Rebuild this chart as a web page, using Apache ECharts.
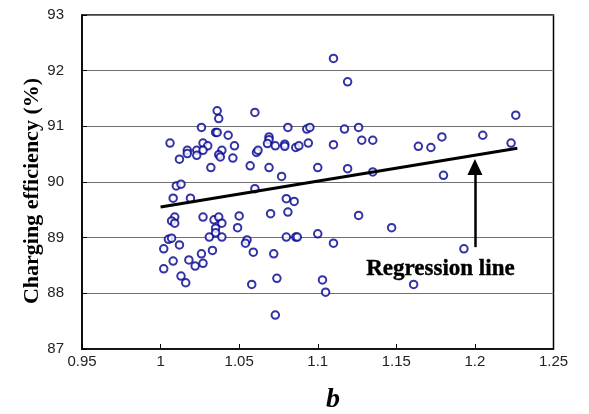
<!DOCTYPE html>
<html>
<head>
<meta charset="utf-8">
<script src="https://cdn.jsdelivr.net/npm/echarts@6/dist/echarts.min.js"></script>
<style>html,body{margin:0;padding:0;background:#fff;}#c{width:589px;height:414px;}</style>
</head>
<body>
<div id="c"></div>
<script>
const xTicks = [0.95, 1, 1.05, 1.1, 1.15, 1.2, 1.25];
const yTicks = [87, 88, 89, 90, 91, 92, 93];
const bValues = [
  1.036,1.037,1.060,1.026,1.035,1.036,1.043,1.006,1.027,1.030,1.047,1.017,1.023,1.027,1.039,1.017,1.023,1.037,1.038,1.012,
  1.046,1.032,1.057,1.061,1.062,1.010,1.013,1.060,
  1.110,1.119,1.081,1.093,1.095,1.117,1.126,1.069,1.069,1.068,1.073,1.079,1.079,1.086,1.088,1.094,1.110,1.128,1.135,
  1.069,1.077,1.100,1.119,1.135,
  1.226,1.164,1.172,1.179,1.205,1.223,1.180,
  1.008,1.019,1.009,1.007,1.009,1.027,1.034,1.037,1.039,1.035,1.050,1.049,1.035,1.031,1.039,1.005,1.007,1.012,1.002,1.055,
  1.054,1.059,1.033,1.026,1.008,1.018,1.022,1.027,1.002,1.013,1.016,1.058,
  1.080,1.085,1.070,1.081,1.126,1.080,1.086,1.087,1.100,1.110,1.072,1.074,1.103,1.105,1.073,
  1.147,1.193,1.161
];
const efficiency = [
  91.28,91.14,91.25,90.98,90.89,90.89,90.84,90.70,90.70,90.65,90.65,90.57,90.57,90.57,90.57,90.51,90.48,90.49,90.45,90.41,
  90.43,90.26,90.29,90.53,90.57,89.93,89.96,89.88,
  92.22,91.80,90.98,90.95,90.98,90.95,90.98,90.81,90.76,90.69,90.65,90.68,90.64,90.62,90.65,90.70,90.67,90.75,90.75,
  90.26,90.10,90.26,90.24,90.18,
  91.20,90.64,90.62,90.81,90.84,90.70,90.12,
  89.71,89.71,89.37,89.30,89.26,89.37,89.32,89.37,89.26,89.17,89.39,89.18,89.09,89.01,89.01,88.97,88.99,88.87,88.80,88.96,
  88.90,88.74,88.77,88.71,88.58,88.60,88.49,88.54,88.44,88.31,88.19,88.16,
  89.70,89.65,89.43,89.46,89.40,89.01,89.01,89.01,89.07,88.90,88.71,88.27,88.24,88.02,87.61,
  89.18,88.80,88.16
];
const regressionX = [1.0, 1.227];
const regressionY = [89.55, 90.605];
const arrowX = [1.2, 1.2];
const arrowY = [88.83, 90.27];

const points = bValues.map((b, i) => [b, efficiency[i]]);
const regLine = regressionX.map((x, i) => [x, regressionY[i]]);

const chart = echarts.init(document.getElementById('c'), null, {renderer: 'canvas'});
chart.setOption({
  animation: false,
  backgroundColor: '#fff',
  grid: {left: 82, right: 35.5, top: 15, bottom: 65, show: true, borderColor: '#000', borderWidth: 1.5, backgroundColor: 'transparent'},
  xAxis: {
    type: 'value', min: 0.95, max: 1.25, interval: 0.05,
    axisLine: {show: true, lineStyle: {color: '#000', width: 1.5}},
    axisTick: {show: true, inside: true, length: 5, lineStyle: {color: '#000'}},
    splitLine: {show: false},
    axisLabel: {fontFamily: 'Liberation Sans', fontSize: 15, color: '#222', margin: 5,
      formatter: v => { const t = xTicks.find(k => Math.abs(k - v) < 1e-6); return t === undefined ? '' : String(t); }}
  },
  yAxis: {
    type: 'value', min: 87, max: 93, interval: 1,
    axisLine: {show: true, lineStyle: {color: '#000', width: 1.5}},
    axisTick: {show: true, inside: true, length: 5, lineStyle: {color: '#000'}},
    splitLine: {show: true, lineStyle: {color: '#707070', width: 1.2}},
    axisLabel: {fontFamily: 'Liberation Sans', fontSize: 15, color: '#222', margin: 18,
      formatter: v => String(yTicks.find(k => Math.abs(k - v) < 1e-6) ?? '')}
  },
  series: [
    {
      type: 'scatter', data: points, symbol: 'emptyCircle', symbolSize: 7.5,
      itemStyle: {color: '#000090', borderWidth: 1.3}, z: 3
    },
    {
      type: 'line', data: regLine, symbol: 'none', lineStyle: {color: '#000', width: 3}, z: 4
    },
    {
      type: 'line', data: [], symbol: 'none',
      markLine: {
        silent: true, symbol: ['none', 'triangle'], symbolSize: [15, 16],
        lineStyle: {color: '#000', width: 2.5, type: 'solid'},
        label: {show: false},
        data: [[{coord: [arrowX[0], arrowY[0]]}, {coord: [arrowX[1], arrowY[1]]}]]
      }
    }
  ],
  graphic: [
    {type: 'text', left: 366, top: 257, style: {text: 'Regression line', font: 'bold 23px "Liberation Serif"', fill: '#000', stroke: '#000', lineWidth: 0.4}},
    {type: 'text', x: 32, y: 191, rotation: Math.PI / 2,
      style: {text: 'Charging efficiency (%)', font: 'bold 22px "Liberation Serif"', fill: '#000', align: 'center', verticalAlign: 'middle'}},
    {type: 'text', left: 326, top: 386, style: {text: 'b', font: 'italic bold 28px "Liberation Serif"', fill: '#000'}}
  ]
});
</script>
</body>
</html>
